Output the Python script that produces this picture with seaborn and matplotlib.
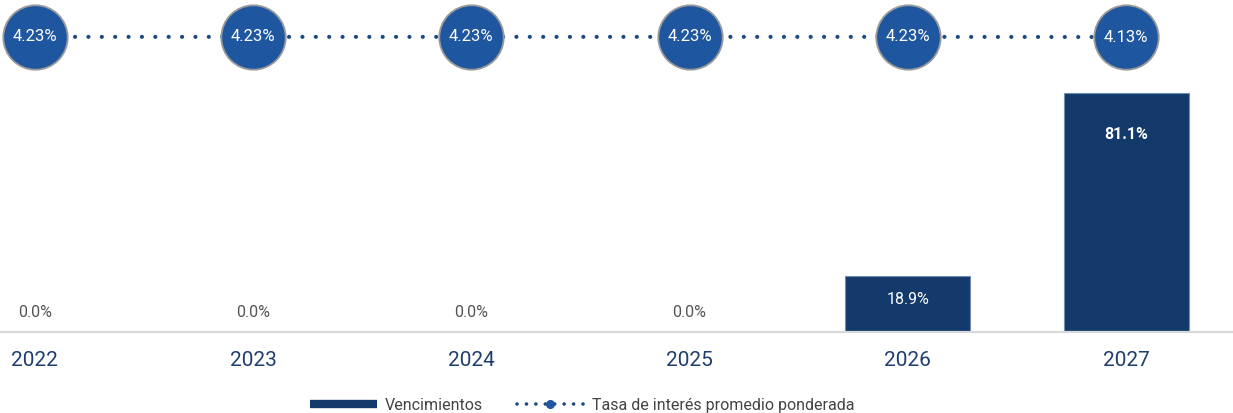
import numpy as np
import pandas as pd
import matplotlib
matplotlib.use("Agg")
import matplotlib.pyplot as plt
from matplotlib.lines import Line2D
import seaborn as sns

# Data
years = ["2022", "2023", "2024", "2025", "2026", "2027"]
maturities = [0.0, 0.0, 0.0, 0.0, 18.9, 81.1]
rates = [4.23, 4.23, 4.23, 4.23, 4.23, 4.13]

bar_label = "Vencimientos"
line_label = "Tasa de interés promedio ponderada"

BAR_COLOR = "#143a6b"
DOT_COLOR = "#1d4a82"
CIRCLE_COLOR = "#1f56a0"
YEAR_COLOR = "#1f3d6e"

sns.set_theme(style="white")
plt.rcParams["font.family"] = ["Roboto", "DejaVu Sans"]

fig = plt.figure(figsize=(12.33, 4.13), dpi=100)
ax = fig.add_axes([0.0, 0.196, 1.0, 0.804])

df = pd.DataFrame({"year": years, "value": maturities})
sns.barplot(data=df, x="year", y="value", color=BAR_COLOR, saturation=1,
            width=0.573, edgecolor="#6f8db5", linewidth=0.8, ax=ax)

ax.set_xlim(-0.16, 5.49)
ax.set_ylim(0, 112.7)
ax.set_xlabel("")
ax.set_ylabel("")
ax.set_yticks([])
for side in ("top", "left", "right"):
    ax.spines[side].set_visible(False)
ax.spines["bottom"].set_color("#d9d9d9")
ax.spines["bottom"].set_linewidth(1.6)
ax.tick_params(axis="x", length=0, pad=13.5, labelsize=15, labelcolor=YEAR_COLOR)

# Value labels on bars
for i, v in enumerate(maturities):
    txt = f"{v:.1f}%"
    if v == 0:
        ax.annotate(txt, (i, 0), xytext=(0, 14), textcoords="offset points",
                    ha="center", va="center", fontsize=11.5, color="#555555")
    elif v < 40:
        ax.annotate(txt, (i, v), xytext=(0, -16.5), textcoords="offset points",
                    ha="center", va="center", fontsize=11.5, color="white")
    else:
        ax.annotate(txt, (i, v), xytext=(0, -30), textcoords="offset points",
                    ha="center", va="center", fontsize=11.5, color="white",
                    fontweight="bold")

# Weighted average rate on a secondary axis
ax2 = ax.twinx()
span = 200.0
top = max(rates)
ax2.set_ylim(top - 0.889 * span, top + 0.111 * span)
ax2.set_yticks([])
for side in ("top", "left", "right", "bottom"):
    ax2.spines[side].set_visible(False)

pos = np.arange(len(years))
sns.lineplot(x=pos, y=rates, ax=ax2, color=DOT_COLOR, linewidth=3.0,
             linestyle=(0, (0.01, 3.2)), dash_capstyle="round", zorder=2)
sns.scatterplot(x=pos, y=rates, ax=ax2, s=2150, color=CIRCLE_COLOR,
                edgecolor="#9a9a9a", linewidth=1.3, zorder=3, legend=False)
for x, r in zip(pos, rates):
    ax2.text(x, r, f"{r:.2f}%", ha="center", va="center", fontsize=12,
             color="white", zorder=4)
ax2.set_xlim(-0.16, 5.49)

# Legend
handles = [
    Line2D([], [], color=BAR_COLOR, linewidth=6, solid_capstyle="butt"),
    Line2D([], [], color=DOT_COLOR, linewidth=2.6, linestyle=(0, (0.01, 2.6)),
           dash_capstyle="round", marker="o", markersize=5.5,
           markerfacecolor=CIRCLE_COLOR, markeredgecolor=CIRCLE_COLOR),
]
fig.legend(handles, [bar_label, line_label], loc="lower center",
           bbox_to_anchor=(0.472, -0.035), ncol=2, frameon=False,
           fontsize=11.5, handlelength=4.2, handletextpad=0.5,
           columnspacing=2.1, labelcolor="#444444", numpoints=1)

fig.savefig("out.png", dpi=100)
